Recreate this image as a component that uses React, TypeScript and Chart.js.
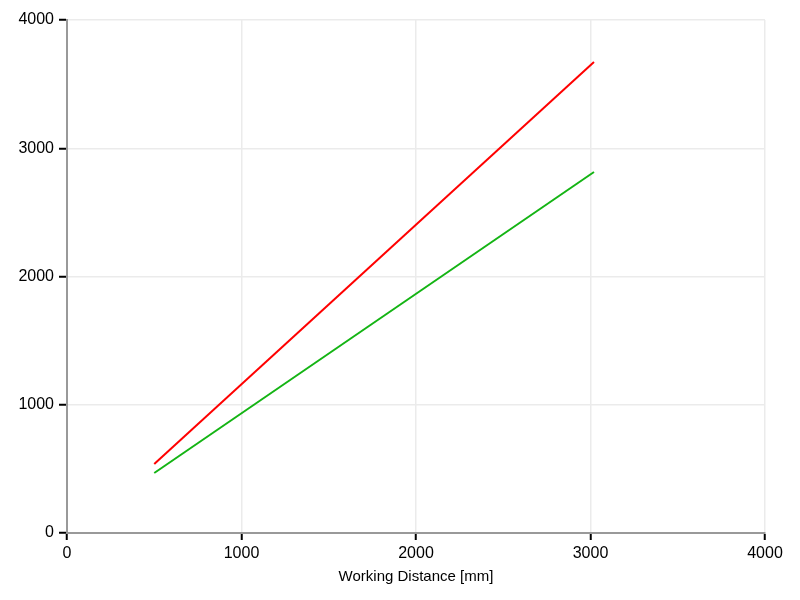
import React, { useEffect, useRef } from "react";
import { Chart, registerables } from "chart.js";

Chart.register(...registerables);

const workingDistance = [500, 3020];
const redSeries = [538, 3672];
const greenSeries = [468, 2815];
const axisTicks = [0, 1000, 2000, 3000, 4000];

export default function App() {
  const ref = useRef<HTMLCanvasElement | null>(null);
  useEffect(() => {
    document.body.style.margin = "0";
    const ctx = ref.current!;
    const tickFont = { family: "Arial, 'Liberation Sans', sans-serif", size: 16 };
    const titleFont = { family: "Arial, 'Liberation Sans', sans-serif", size: 15 };
    const chart = new Chart(ctx, {
      type: "scatter",
      data: {
        datasets: [
          {
            label: "red",
            data: workingDistance.map((x, i) => ({ x, y: redSeries[i] })),
            showLine: true,
            borderColor: "rgb(255,0,0)",
            borderWidth: 2,
            pointRadius: 0,
            fill: false,
          },
          {
            label: "green",
            data: workingDistance.map((x, i) => ({ x, y: greenSeries[i] })),
            showLine: true,
            borderColor: "rgb(20,180,20)",
            borderWidth: 2,
            pointRadius: 0,
            fill: false,
          },
        ],
      },
      options: {
        animation: false,
        responsive: false,
        maintainAspectRatio: false,
        layout: { padding: { top: 20, right: 35, left: 0, bottom: 14 } },
        plugins: { legend: { display: false }, tooltip: { enabled: false } },
        scales: {
          x: {
            type: "linear",
            min: axisTicks[0],
            max: axisTicks[axisTicks.length - 1],
            afterBuildTicks: (axis: any) => {
              axis.ticks = axisTicks.map((v) => ({ value: v }));
            },
            afterFit: (axis: any) => {
              axis.height = 53;
            },
            grid: {
              color: "#ebebeb",
              lineWidth: 1.5,
              tickColor: "#000",
              tickLength: 7,
              tickWidth: 2,
            },
            border: { color: "#999", width: 2 },
            ticks: {
              color: "#000",
              font: tickFont,
              padding: 4,
              maxRotation: 0,
              callback: (v: any) => String(v),
            },
            title: {
              display: true,
              text: "Working Distance [mm]",
              color: "#000",
              font: titleFont,
              padding: { top: 4, bottom: 0 },
            },
          },
          y: {
            type: "linear",
            min: axisTicks[0],
            max: axisTicks[axisTicks.length - 1],
            afterBuildTicks: (axis: any) => {
              axis.ticks = axisTicks.map((v) => ({ value: v }));
            },
            afterFit: (axis: any) => {
              axis.width = 67;
            },
            grid: {
              color: "#ebebeb",
              lineWidth: 1.5,
              tickColor: "#000",
              tickLength: 8,
              tickWidth: 2,
            },
            border: { color: "#999", width: 2 },
            ticks: {
              color: "#000",
              font: tickFont,
              padding: 5,
              callback: (v: any) => String(v),
            },
          },
        },
      },
    } as any);
    return () => chart.destroy();
  }, []);
  return (
    <div style={{ position: "fixed", left: 0, top: 0, width: 800, height: 600, background: "#fff" }}>
      <canvas ref={ref} width={800} height={600} style={{ width: 800, height: 600 }} />
    </div>
  );
}
